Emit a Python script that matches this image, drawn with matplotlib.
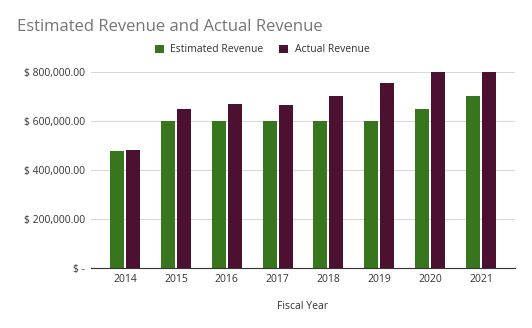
import matplotlib
matplotlib.use("Agg")
import matplotlib.pyplot as plt
import numpy as np

years = ["2014", "2015", "2016", "2017", "2018", "2019", "2020", "2021"]
estimated = [478000, 600000, 600000, 600000, 600000, 600000, 650000, 700000]
actual = [482000, 648000, 671000, 664000, 700000, 754000, 800000, 800000]
yticks = [0, 200000, 400000, 600000, 800000]
ytick_labels = ["$ -", "$ 200,000.00", "$ 400,000.00", "$ 600,000.00", "$ 800,000.00"]

plt.rcParams['font.family'] = ['Open Sans', 'DejaVu Sans']

fig = plt.figure(figsize=(5.32, 3.28), dpi=100)
ax = fig.add_axes([91/532, 1-268/328, (515-91)/532, (268-72)/328])

x = np.arange(len(years))
w = 0.275
gap = 0.02
green = "#38761d"
purple = "#4c1130"
ax.bar(x - w/2 - gap, estimated, width=w, color=green, label="Estimated Revenue", zorder=3)
ax.bar(x + w/2 + gap, actual, width=w, color=purple, label="Actual Revenue", zorder=3)

ax.set_xlim(-0.67, len(years) - 1 + 0.67)
ax.set_ylim(0, 800000)
ax.set_xticks(x)
ax.set_xticklabels(years, fontsize=7.5, color="#333333")
ax.set_yticks(yticks)
ax.set_yticklabels(ytick_labels, fontsize=7.5, color="#333333")
ax.tick_params(axis="both", length=0, pad=4)
ax.grid(axis="y", color="#d9d9d9", linewidth=0.8, zorder=0)
for s in ["top", "right", "left"]:
    ax.spines[s].set_visible(False)
ax.spines["bottom"].set_color("#333333")
ax.spines["bottom"].set_linewidth(0.8)
ax.spines["bottom"].set_zorder(4)

ax.set_xlabel("Fiscal Year", fontsize=7.5, color="#333333", labelpad=12)

fig.text(17/532, 1-31/328, "Estimated Revenue and Actual Revenue", fontsize=12,
         color="#757575", ha="left", va="baseline")

leg = fig.legend(loc="center", bbox_to_anchor=(262/532, 1-50/328), ncol=2, frameon=False,
                 fontsize=7.5, handlelength=0.9, handleheight=0.9, columnspacing=1.5,
                 handletextpad=0.6)
for t in leg.get_texts():
    t.set_color("#333333")

fig.savefig("out.png", dpi=100, facecolor="white")
